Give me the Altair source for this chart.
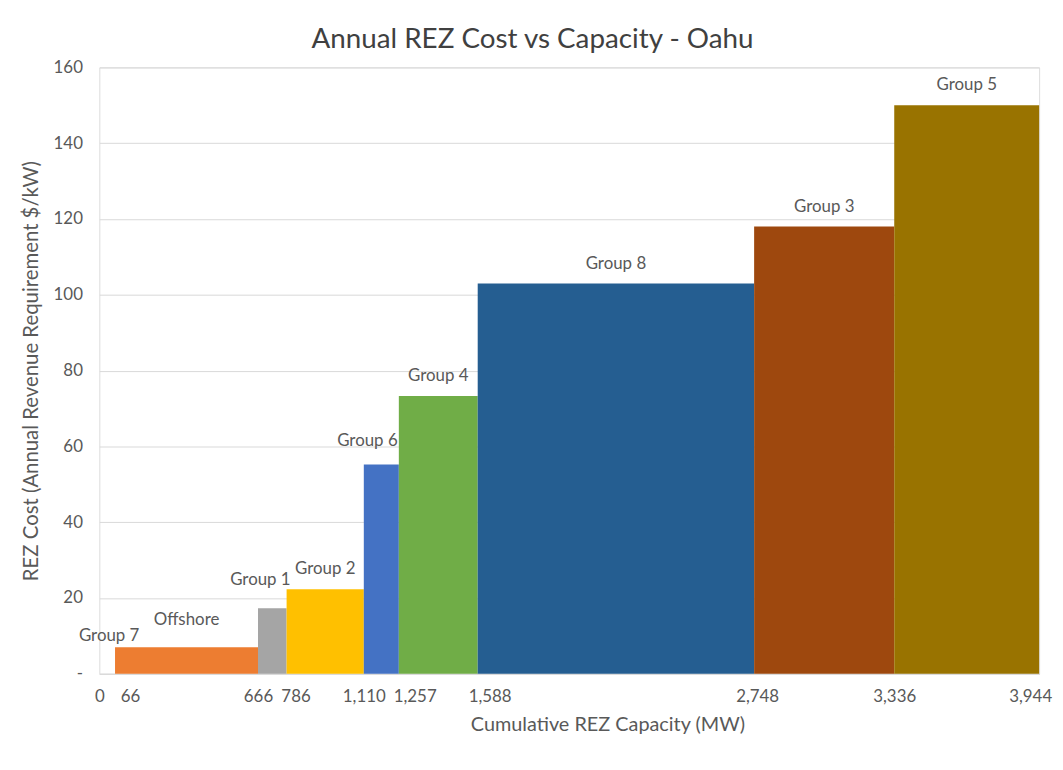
import altair as alt
import pandas as pd

groups = ["Group 7", "Offshore", "Group 1", "Group 2", "Group 6", "Group 4", "Group 8", "Group 3", "Group 5"]
starts = [0, 66, 666, 786, 1110, 1257, 1588, 2748, 3336]
ends = [66, 666, 786, 1110, 1257, 1588, 2748, 3336, 3944]
costs = [0, 7.0, 17.3, 22.3, 55.2, 73.3, 103.0, 118.0, 150.0]
colors = ["#ED7D31", "#ED7D31", "#A5A5A5", "#FFC000", "#4472C4", "#70AD47", "#255E91", "#9E480E", "#997300"]
tick_values = [0, 66, 666, 786, 1110, 1257, 1588, 2748, 3336, 3944]
y_ticks = [0, 20, 40, 60, 80, 100, 120, 140, 160]

df = pd.DataFrame({"group": groups, "start": starts, "end": ends, "cost": costs})
df["mid"] = (df["start"] + df["end"]) / 2

FONT = "Lato"
TXT = "#595959"

# small horizontal nudges of individual tick labels, as in the original layout
label_nudge = {
    "condition": [
        {"test": "datum.value == 66", "value": 15},
        {"test": "datum.value == 786", "value": 9},
        {"test": "datum.value == 1257", "value": 16},
        {"test": "datum.value == 1588", "value": 12},
        {"test": "datum.value == 2748", "value": 3},
        {"test": "datum.value == 3944", "value": -9},
    ],
    "value": 0,
}

x_enc = alt.X("start:Q",
              scale=alt.Scale(domain=[0, 3944], nice=False, zero=False),
              axis=alt.Axis(values=tick_values, format=",d", title="Cumulative REZ Capacity (MW)",
                            grid=False, ticks=False, domain=True, domainColor="#D9D9D9",
                            labelOverlap=False, labelFlush=False, labelPadding=15,
                            labelOffset=label_nudge,
                            labelFontSize=17, labelColor=TXT, titleFontSize=20,
                            titleColor=TXT, titleFontWeight="normal", titlePadding=10,
                            titleX=512, labelFont=FONT, titleFont=FONT))
y_enc = alt.Y("cost:Q",
              scale=alt.Scale(domain=[0, 160], nice=False),
              axis=alt.Axis(values=y_ticks, title="REZ Cost (Annual Revenue Requirement $/kW)",
                            labelExpr="datum.value == 0 ? '-' : datum.label",
                            grid=True, gridColor="#D9D9D9", ticks=False, domain=False,
                            labelPadding=17, labelFontSize=17, labelColor=TXT,
                            titleFontSize=20.5, titleColor=TXT, titleFontWeight="normal",
                            titleX=-58, labelFont=FONT, titleFont=FONT))

bars = alt.Chart(df).mark_bar(strokeWidth=0).encode(
    x=x_enc,
    x2="end:Q",
    y=y_enc,
    y2=alt.datum(0),
    color=alt.Color("group:N", scale=alt.Scale(domain=groups, range=colors), legend=None),
)


def label_layer(names, dx=0, dy=-20):
    return alt.Chart(df).transform_filter(
        alt.FieldOneOfPredicate(field="group", oneOf=names)
    ).mark_text(font=FONT, fontSize=17, color=TXT, dx=dx, dy=dy, baseline="middle").encode(
        x="mid:Q", y="cost:Q", text="group:N"
    )


labels = (
    label_layer(["Group 2", "Group 4", "Group 8", "Group 3", "Group 5"])
    + label_layer(["Group 7"], dx=2, dy=-38)
    + label_layer(["Offshore"], dy=-27)
    + label_layer(["Group 1"], dx=-12, dy=-28)
    + label_layer(["Group 6"], dx=-14, dy=-24)
)

chart = alt.layer(bars, labels).properties(
    width=947,
    height=611,
    autosize=alt.AutoSizeParams(type="none"),
    padding={"left": 92, "top": 57, "right": 16, "bottom": 80},
    title=alt.TitleParams("Annual REZ Cost vs Capacity - Oahu", font=FONT, fontSize=28,
                          fontWeight="normal", color="#404040", anchor="middle", dx=-37, offset=5),
).configure_view(stroke=None).configure(background="white")

chart.save("out.html", embed_options={"renderer": "svg", "actions": False})
